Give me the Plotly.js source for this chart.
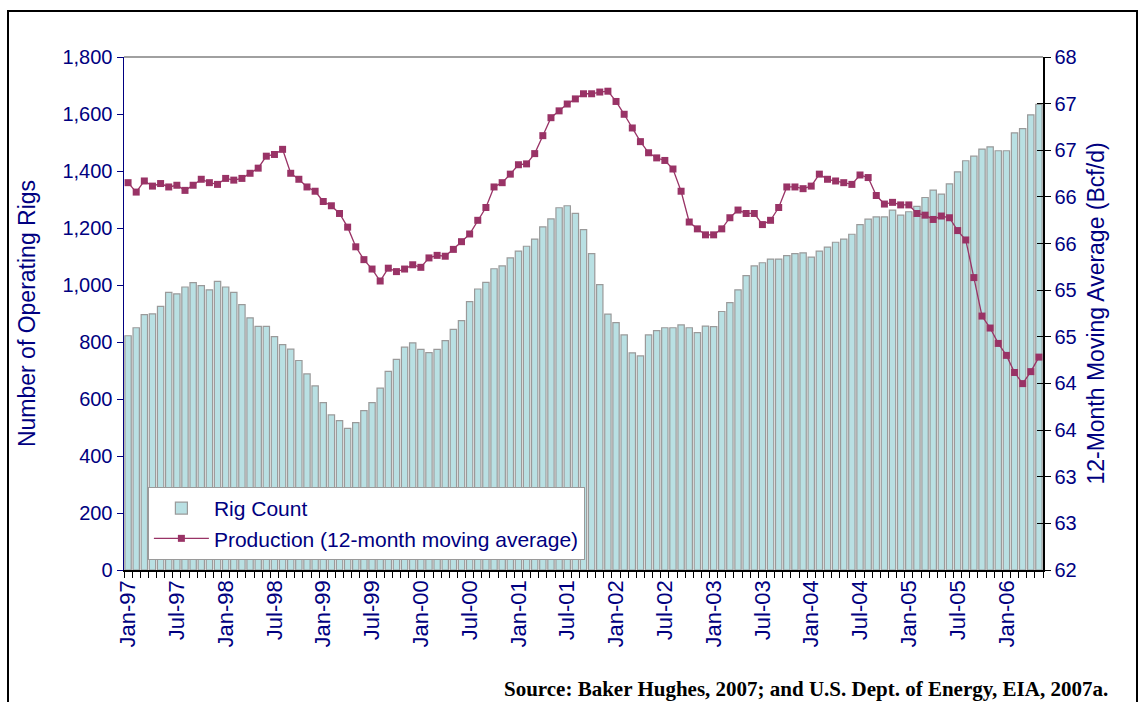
<!DOCTYPE html>
<html>
<head>
<meta charset="utf-8">
<script src="https://cdn.plot.ly/plotly-3.0.1.min.js"></script>
<style>
  html, body { margin: 0; padding: 0; background: #fff; }
  #wrap { position: relative; width: 1146px; height: 702px; }
  #frame { position: absolute; left: 7px; top: 10px; width: 1131px; height: 700px;
           border: 2px solid #000; box-sizing: border-box; pointer-events: none; }
  #chart { position: absolute; left: 0; top: 0; width: 1146px; height: 702px; }
</style>
</head>
<body>
<div id="wrap">
  <div id="chart"></div>
  <div id="frame"></div>
</div>
<script>
// ---- Data ----
const monthNames = ["Jan","Feb","Mar","Apr","May","Jun","Jul","Aug","Sep","Oct","Nov","Dec"];
const years = ["97","98","99","00","01","02","03","04","05","06"];
const lastYearMonths = 5; // Jan-06 .. May-06

const rigCount = [
  822, 850, 896, 899, 925, 974, 969, 993, 1008, 998, 983, 1013,
  993, 974, 931, 885, 855, 855, 819, 791, 775, 735, 688, 646,
  587, 544, 524, 497, 517, 559, 587, 638, 697, 739, 782, 797,
  774, 763, 774, 805, 844, 875, 942, 986, 1009, 1057, 1067, 1095,
  1119, 1136, 1161, 1204, 1232, 1271, 1278, 1251, 1194, 1110, 1001, 898,
  868, 825, 762, 751, 825, 840, 850, 850, 860, 850, 833, 856,
  854, 907, 938, 983, 1033, 1067, 1078, 1091, 1091, 1103, 1110, 1113,
  1098, 1119, 1133, 1150, 1161, 1178, 1212, 1231, 1239, 1239, 1263, 1245,
  1257, 1276, 1307, 1333, 1319, 1355, 1397, 1436, 1452, 1477, 1485, 1471,
  1471, 1534, 1549, 1597, 1634
];

const production = [
  66.53, 66.42, 66.55, 66.49, 66.52, 66.48, 66.50, 66.44, 66.50, 66.57, 66.53, 66.51,
  66.58, 66.56, 66.58, 66.64, 66.70, 66.84, 66.86, 66.92, 66.64, 66.57, 66.48, 66.43,
  66.31, 66.26, 66.17, 66.01, 65.78, 65.63, 65.52, 65.38, 65.53, 65.49, 65.52, 65.57,
  65.54, 65.65, 65.68, 65.67, 65.75, 65.84, 65.93, 66.09, 66.24, 66.48, 66.53, 66.63,
  66.74, 66.75, 66.87, 67.08, 67.29, 67.37, 67.45, 67.51, 67.57, 67.57, 67.59, 67.60,
  67.48, 67.33, 67.17, 67.01, 66.88, 66.82, 66.79, 66.69, 66.43, 66.07, 65.99, 65.92,
  65.92, 65.99, 66.12, 66.21, 66.17, 66.17, 66.04, 66.09, 66.24, 66.48, 66.48, 66.46,
  66.49, 66.63, 66.57, 66.55, 66.53, 66.51, 66.62, 66.59, 66.38, 66.28, 66.30, 66.27,
  66.27, 66.17, 66.15, 66.10, 66.14, 66.12, 65.97, 65.86, 65.42, 64.97, 64.83, 64.65,
  64.51, 64.31, 64.18, 64.32, 64.49
];

const leftTickVals = [0, 200, 400, 600, 800, 1000, 1200, 1400, 1600, 1800];
const leftTickText = ["0", "200", "400", "600", "800", "1,000", "1,200", "1,400", "1,600", "1,800"];
const rightTickVals = [62, 62.545, 63.091, 63.636, 64.182, 64.727, 65.273, 65.818, 66.364, 66.909, 67.455, 68];
const rightTickText = ["62", "63", "63", "64", "64", "65", "65", "66", "66", "67", "67", "68"];

// ---- Categories (month labels) ----
const months = [];
years.forEach((y, yi) => {
  const n = (yi === years.length - 1) ? lastYearMonths : 12;
  for (let m = 0; m < n; m++) months.push(monthNames[m] + "-" + y);
});
const xTickText = months.map((m, i) => (i % 6 === 0 ? m : ""));

const navy = "#000080";
const font = "Liberation Sans, Arial, sans-serif";

const traces = [
  {
    type: "bar", name: "Rig Count", x: months, y: rigCount,
    marker: { color: "#B9E0E3", line: { color: "#9A9A9A", width: 1.2 } },
    yaxis: "y"
  },
  {
    type: "scatter", mode: "lines+markers", name: "Production (12-month moving average)",
    x: months, y: production, yaxis: "y2",
    line: { color: "#993366", width: 1.3 },
    marker: { symbol: "square", size: 7, color: "#993366" }
  }
];

const layout = {
  width: 1146, height: 702,
  margin: { l: 124, r: 103, t: 57, b: 132 },
  paper_bgcolor: "#fff", plot_bgcolor: "#fff",
  bargap: 0.22,
  showlegend: true,
  font: { family: font, color: navy },
  xaxis: {
    type: "category",
    tickvals: months, ticktext: xTickText,
    tickangle: -90,
    tickson: "boundaries",
    ticks: "outside", ticklen: 6, tickcolor: "#000", tickwidth: 1,
    showline: true, linecolor: "#000", linewidth: 1.5,
    showgrid: false, zeroline: false,
    tickfont: { family: font, size: 22, color: navy },
    range: [-0.5, months.length - 0.5],
    automargin: false,
    fixedrange: true
  },
  yaxis: {
    range: [0, 1800],
    tickvals: leftTickVals, ticktext: leftTickText,
    ticks: "outside", ticklen: 6, tickcolor: navy,
    showline: true, linecolor: navy, linewidth: 1.5,
    showgrid: false, zeroline: false,
    automargin: false,
    tickfont: { family: font, size: 20, color: navy },
    title: { text: "Number of Operating Rigs", font: { family: font, size: 23, color: navy }, standoff: 20 }
  },
  yaxis2: {
    overlaying: "y", side: "right",
    range: [62, 68],
    tickvals: rightTickVals, ticktext: rightTickText,
    ticks: "outside", ticklen: 6, tickcolor: "#000",
    showline: true, linecolor: "#000", linewidth: 1.5,
    showgrid: false, zeroline: false,
    automargin: false,
    tickfont: { family: font, size: 20, color: navy },
    title: { text: "12-Month Moving Average (Bcf/d)", font: { family: font, size: 23, color: navy }, standoff: 12 }
  },
  yaxis3: {
    overlaying: "y", side: "right",
    range: [62, 68],
    tickvals: rightTickVals, ticktext: rightTickText.map(() => ""),
    ticks: "inside", ticklen: 6, tickcolor: "#000",
    showline: false, showgrid: false, zeroline: false, showticklabels: false
  },
  legend: {
    x: 0.026, y: 0.162, xanchor: "left", yanchor: "top",
    bgcolor: "#fff", bordercolor: "#9A9A9A", borderwidth: 1,
    font: { family: font, size: 21, color: navy },
    tracegroupgap: 4, itemwidth: 55
  },
  shapes: [
    { type: "line", xref: "paper", yref: "paper", x0: 0, x1: 1, y0: 1, y1: 1,
      line: { color: "#808080", width: 1.5 } }
  ],
  annotations: [
    { xref: "paper", yref: "paper", x: 1.073, y: -0.231, xanchor: "right", yanchor: "middle",
      showarrow: false,
      text: "<b>Source: Baker Hughes, 2007; and U.S. Dept. of Energy, EIA, 2007a.</b>",
      font: { family: "Liberation Serif, Times New Roman, serif", size: 21, color: "#000" } }
  ]
};

// invisible trace that activates yaxis3 (inside half of the right-axis cross ticks)
traces.push({ type: "scatter", x: [months[0]], y: [62], yaxis: "y3", mode: "markers",
  marker: { opacity: 0 }, showlegend: false, hoverinfo: "skip" });

Plotly.newPlot("chart", traces, layout, { displayModeBar: false, staticPlot: true });
</script>
</body>
</html>
